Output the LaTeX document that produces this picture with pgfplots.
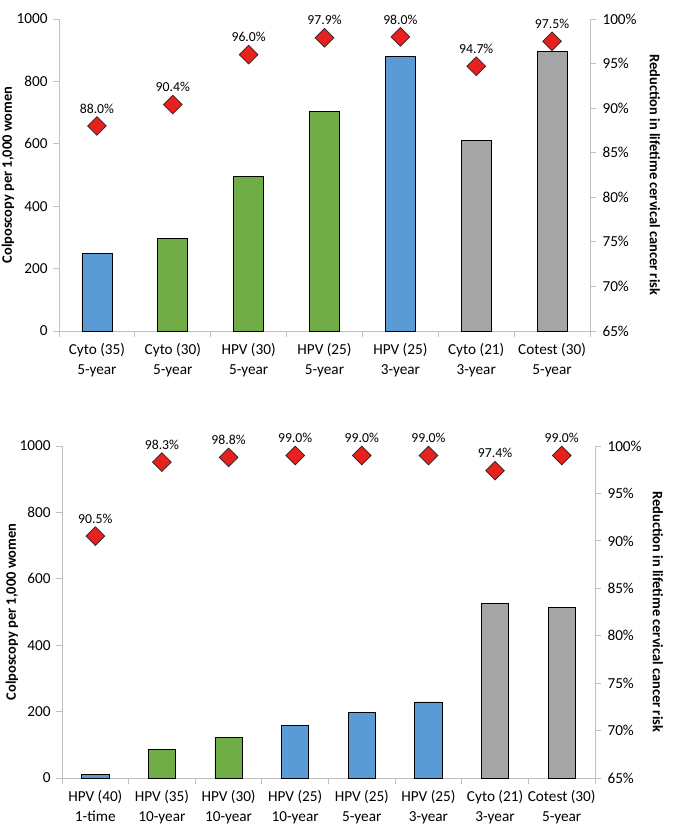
\documentclass[border=0pt]{standalone}
\usepackage{fontspec}
\setmainfont{Carlito}
\usepackage{pgfplots}
\pgfplotsset{compat=1.18}
\definecolor{cblue}{HTML}{5B9BD5}
\definecolor{cgreen}{HTML}{70AD47}
\definecolor{cgray}{HTML}{A5A5A5}
\definecolor{cred}{HTML}{E8201E}
\definecolor{axgray}{HTML}{BFBFBF}
\pgfplotsset{
  base/.style={
    scale only axis, clip=false,
    /pgf/number format/assume math mode=true,
    /pgf/number format/1000 sep={},
    tick label style={font=\fontsize{15.3}{20}\selectfont},
    label style={font=\bfseries\fontsize{14.5}{16}\selectfont},
    axis line style={axgray, line width=0.8pt},
    tick style={axgray, line width=0.8pt},
    major tick length=6bp, tick align=outside,
  },
  barax/.style={base,
    axis x line*=bottom, axis y line*=left,
    ymin=0, ymax=1000, ytick={0,200,...,1000},
    yticklabel style={xshift=-2bp},
    xticklabels={},
    extra x tick style={major tick length=0pt},
    xticklabel style={align=center, yshift=-8.5bp},
  },
  ptax/.style={base,
    axis x line=none, axis y line*=right,
    ymin=65, ymax=100, ytick={65,70,...,100},
    yticklabel={\pgfmathprintnumber{\tick}\%},
    yticklabel style={xshift=3bp},
    y label style={rotate=180},
  },
  bars/.style={ybar, bar width=#1, bar shift=0pt, draw=black, line width=0.8pt},
  dia/.style={only marks, mark=square*, mark size=6.6bp,
    mark options={rotate=45, fill=cred, draw=black!85, line width=0.7pt},
    point meta=y,
    nodes near coords={\pgfmathprintnumber[fixed,fixed zerofill,precision=1]{\pgfplotspointmeta}\%},
    every node near coord/.append style={font=\fontsize{13.8}{15}\selectfont, yshift=9bp, text=black},
  },
}
\begin{document}
\begin{tikzpicture}
\useasboundingbox (0,0) rectangle (679bp,-828bp);
% ---------- top panel ----------
\begin{axis}[barax, at={(59bp,-331bp)}, anchor=south west,
  width=531bp, height=312bp, xmin=-0.5, xmax=6.5,
  xtick={-0.5,0.5,...,6.5},
  extra x ticks={0,1,2,3,4,5,6},
  extra x tick labels={{Cyto (35)\\5-year},{Cyto (30)\\5-year},{HPV (30)\\5-year},{HPV (25)\\5-year},{HPV (25)\\3-year},{Cyto (21)\\3-year},{Cotest (30)\\5-year}},
  ylabel={Colposcopy per 1,000 women},
  y label style={at={(axis description cs:-0.096,0.5)}, anchor=center},
]
\addplot[bars=0.395, fill=cblue] coordinates {(0,249) (4,879)};
\addplot[bars=0.395, fill=cgreen] coordinates {(1,298) (2,494) (3,705)};
\addplot[bars=0.395, fill=cgray] coordinates {(5,612) (6,895)};
\end{axis}
\begin{axis}[ptax, at={(59bp,-331bp)}, anchor=south west,
  width=531bp, height=312bp, xmin=-0.5, xmax=6.5,
  ylabel={Reduction in lifetime cervical cancer risk},
  y label style={at={(axis description cs:1.122,0.5)}, anchor=center},
]
\addplot[dia] coordinates {(0,88.0) (1,90.4) (2,96.0) (3,97.9) (4,98.0) (5,94.7) (6,97.5)};
\end{axis}
% ---------- bottom panel ----------
\begin{axis}[barax, at={(62bp,-778bp)}, anchor=south west,
  width=533bp, height=332bp, xmin=-0.5, xmax=7.5,
  xtick={-0.5,0.5,...,7.5},
  extra x ticks={0,1,2,3,4,5,6,7},
  extra x tick labels={{HPV (40)\\1-time},{HPV (35)\\10-year},{HPV (30)\\10-year},{HPV (25)\\10-year},{HPV (25)\\5-year},{HPV (25)\\3-year},{Cyto (21)\\3-year},{Cotest (30)\\5-year}},
  ylabel={Colposcopy per 1,000 women},
  y label style={at={(axis description cs:-0.094,0.5)}, anchor=center},
]
\addplot[bars=0.41, fill=cblue] coordinates {(0,12) (3,157) (4,197) (5,229)};
\addplot[bars=0.41, fill=cgreen] coordinates {(1,87) (2,123)};
\addplot[bars=0.41, fill=cgray] coordinates {(6,525) (7,514)};
\end{axis}
\begin{axis}[ptax, at={(62bp,-778bp)}, anchor=south west,
  width=533bp, height=332bp, xmin=-0.5, xmax=7.5,
  ylabel={Reduction in lifetime cervical cancer risk},
  y label style={at={(axis description cs:1.118,0.5)}, anchor=center},
]
\addplot[dia] coordinates {(0,90.5) (1,98.3) (2,98.8) (3,99.0) (4,99.0) (5,99.0) (6,97.4) (7,99.0)};
\end{axis}
\end{tikzpicture}
\end{document}
